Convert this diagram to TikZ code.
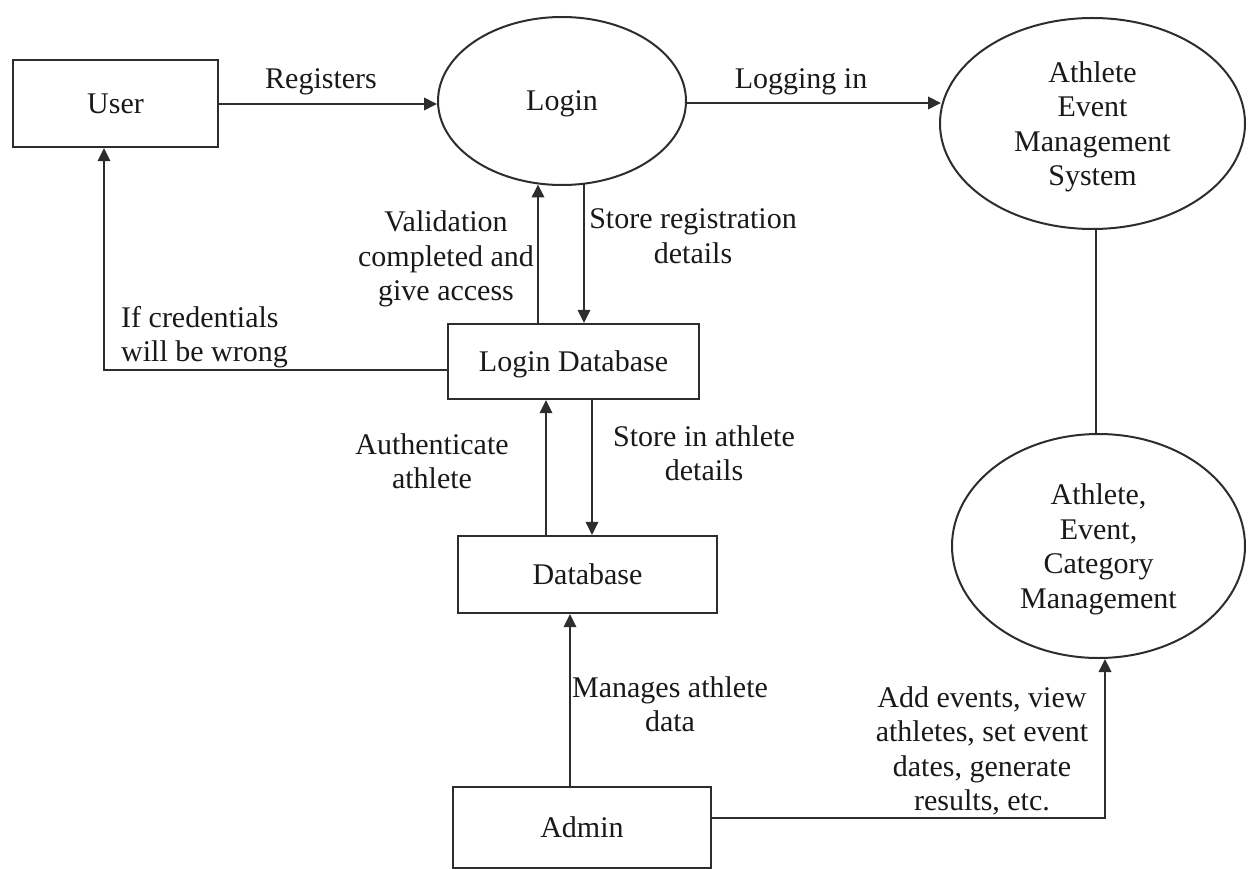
\documentclass[tikz,border=0pt]{standalone}
\usepackage{fontspec}
\setmainfont{Liberation Serif}
\usetikzlibrary{shapes.geometric,arrows.meta}
\definecolor{ink}{RGB}{45,45,45}
\definecolor{txt}{RGB}{25,25,25}
\begin{document}
\begin{tikzpicture}[x=1pt,y=-1pt,
  every node/.style={font=\fontsize{30}{34.5}\selectfont, text=txt},
  box/.style={draw=ink, line width=2.2pt, rectangle, inner sep=0pt, text depth=0pt},
  proc/.style={draw=ink, line width=2pt, ellipse, inner sep=0pt, align=center, text depth=0pt},
  lbl/.style={inner sep=0pt, align=center},
  flow/.style={draw=ink, line width=2pt, -{Triangle[length=13pt,width=12.5pt]}},
  link/.style={draw=ink, line width=2pt}]
\useasboundingbox (0,0) rectangle (1250,869);

% external entities and data stores
\node[box, minimum width=205pt, minimum height=87pt] (user) at (115.5,103.5) {User};
\node[box, minimum width=251pt, minimum height=75pt] (ldb) at (573.5,361.5) {Login Database};
\node[box, minimum width=259pt, minimum height=77pt] (db) at (587.5,574.5) {Database};
\node[box, minimum width=258pt, minimum height=81pt] (admin) at (582,827.5) {Admin};

% processes
\node[proc, minimum width=248pt, minimum height=168pt] (login) at (562,101) {Login};
\node[proc, minimum width=305pt, minimum height=211pt] (aems) at (1092.5,123.5)
  {Athlete\\Event\\Management\\System};
\node[proc, minimum width=293pt, minimum height=224pt] (acm) at (1098.5,546)
  {Athlete,\\Event,\\Category\\Management};

% data flows
\draw[flow] ([yshift=-0.5pt]user.east) -- ([yshift=-0.5pt]user.east -| login.west);
\draw[flow] ([yshift=-2pt]login.east) -- ([yshift=-2pt,xshift=2pt]login.east -| aems.west);
\draw[flow] ([xshift=-35.5pt]ldb.north) -- ([xshift=-35.5pt,yshift=1.5pt]ldb.north |- login.south);
\draw[flow] ([xshift=22pt,yshift=1.5pt]login.south) -- ([xshift=22pt]login.south |- ldb.north);
\draw[flow] ([yshift=-8.5pt]ldb.west) -| ([xshift=-11.5pt]user.south);
\draw[flow] ([xshift=-41.5pt]db.north) -- ([xshift=-41.5pt]db.north |- ldb.south);
\draw[flow] ([xshift=18.5pt]ldb.south) -- ([xshift=18.5pt]ldb.south |- db.north);
\draw[flow] ([xshift=-12pt]admin.north) -- ([xshift=-12pt]admin.north |- db.south);
\draw[flow] ([yshift=9.5pt]admin.east) -| ([xshift=6.5pt]acm.south);
\draw[link] ([xshift=3.5pt]aems.south) -- ([xshift=3.5pt]aems.south |- acm.north);

% flow labels
\node[lbl] (tReg) at (321,82) {Registers};
\node[lbl] (tLog) at (801,82) {Logging in};
\node[lbl] (tVal) at (446,259) {Validation\\completed and\\give access};
\node[lbl] (tStoreReg) at (693,236) {Store registration\\details};
\node[lbl, align=left, anchor=west] (tCred) at (121,337) {If credentials\\will be wrong};
\node[lbl] (tAuth) at (432,461) {Authenticate\\athlete};
\node[lbl] (tStoreAth) at (704,453) {Store in athlete\\details};
\node[lbl] (tMan) at (670,704) {Manages athlete\\data};
\node[lbl] (tAdd) at (982,751) {Add events, view\\athletes, set event\\dates, generate\\results, etc.};
\end{tikzpicture}
\end{document}
